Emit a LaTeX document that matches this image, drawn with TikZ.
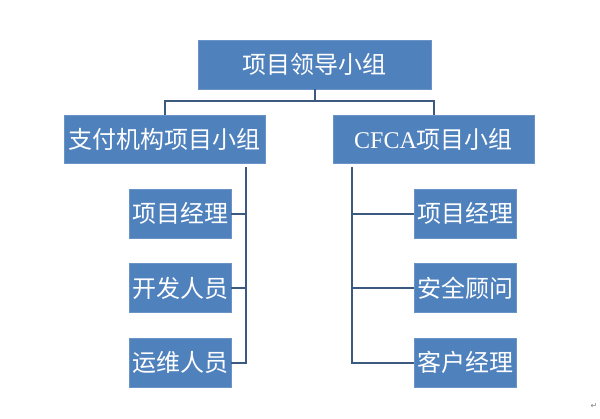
\documentclass[tikz,border=0pt]{standalone}
\usepackage{fontspec}
\setmainfont{Liberation Serif}
\newfontfamily\cjk{Noto Sans CJK SC}
\newfontfamily\symb{DejaVu Sans}
\definecolor{boxblue}{HTML}{4F81BD}
\definecolor{boxedge}{HTML}{6A93C8}
\definecolor{linkblue}{HTML}{3C5A80}
\begin{document}
\begin{tikzpicture}[x=0.75pt,y=-0.75pt,
    box/.style={draw=boxedge,fill=boxblue,text=white,inner sep=0pt,
      font=\cjk\fontsize{18}{18}\selectfont},
    lead/.style={box,minimum width=174.75pt,minimum height=36.75pt},
    group/.style={box,minimum width=150.75pt,minimum height=36pt},
    member/.style={box,minimum width=76.5pt,minimum height=36.75pt},
    link/.style={draw=linkblue,line width=1.5pt}]
      \useasboundingbox (0,0) rectangle (600,418);
      \draw
        (314.5,64.5) node[lead] (top){项目领导小组}
        (164.5,139) node[group] (pay){支付机构项目小组}
        (433.5,139) node[group] (cfca){{\rmfamily CFCA}项目小组}
        (180,213.5) node[member] (p1){项目经理}
        (180,288) node[member] (p2){开发人员}
        (180,362.5) node[member] (p3){运维人员}
        (465,213.5) node[member] (c1){项目经理}
        (465,288) node[member] (c2){安全顾问}
        (465,362.5) node[member] (c3){客户经理};
      \coordinate (hub) at (314.5,101);
      \coordinate (payin) at (164.5,101);
      \coordinate (cfcain) at (433.5,101);
      \coordinate (payout) at (246,167);
      \coordinate (cfcaout) at (352,167);
      \begin{scope}[link]
        \draw (top.south) to (hub);
        \draw (pay.north) -- (payin) -- (cfcain) -- (cfca.north);
        \draw (payout) |- (p3.east);
        \draw (payout |- p1.east) to (p1.east);
        \draw (payout |- p2.east) to (p2.east);
        \draw (cfcaout) |- (c3.west);
        \draw (cfcaout |- c1.west) to (c1.west);
        \draw (cfcaout |- c2.west) to (c2.west);
      \end{scope}
      \node[text=gray,font=\symb\fontsize{6}{6}\selectfont] (mark) at (594,406) {↵};
    \end{tikzpicture}
\end{document}
